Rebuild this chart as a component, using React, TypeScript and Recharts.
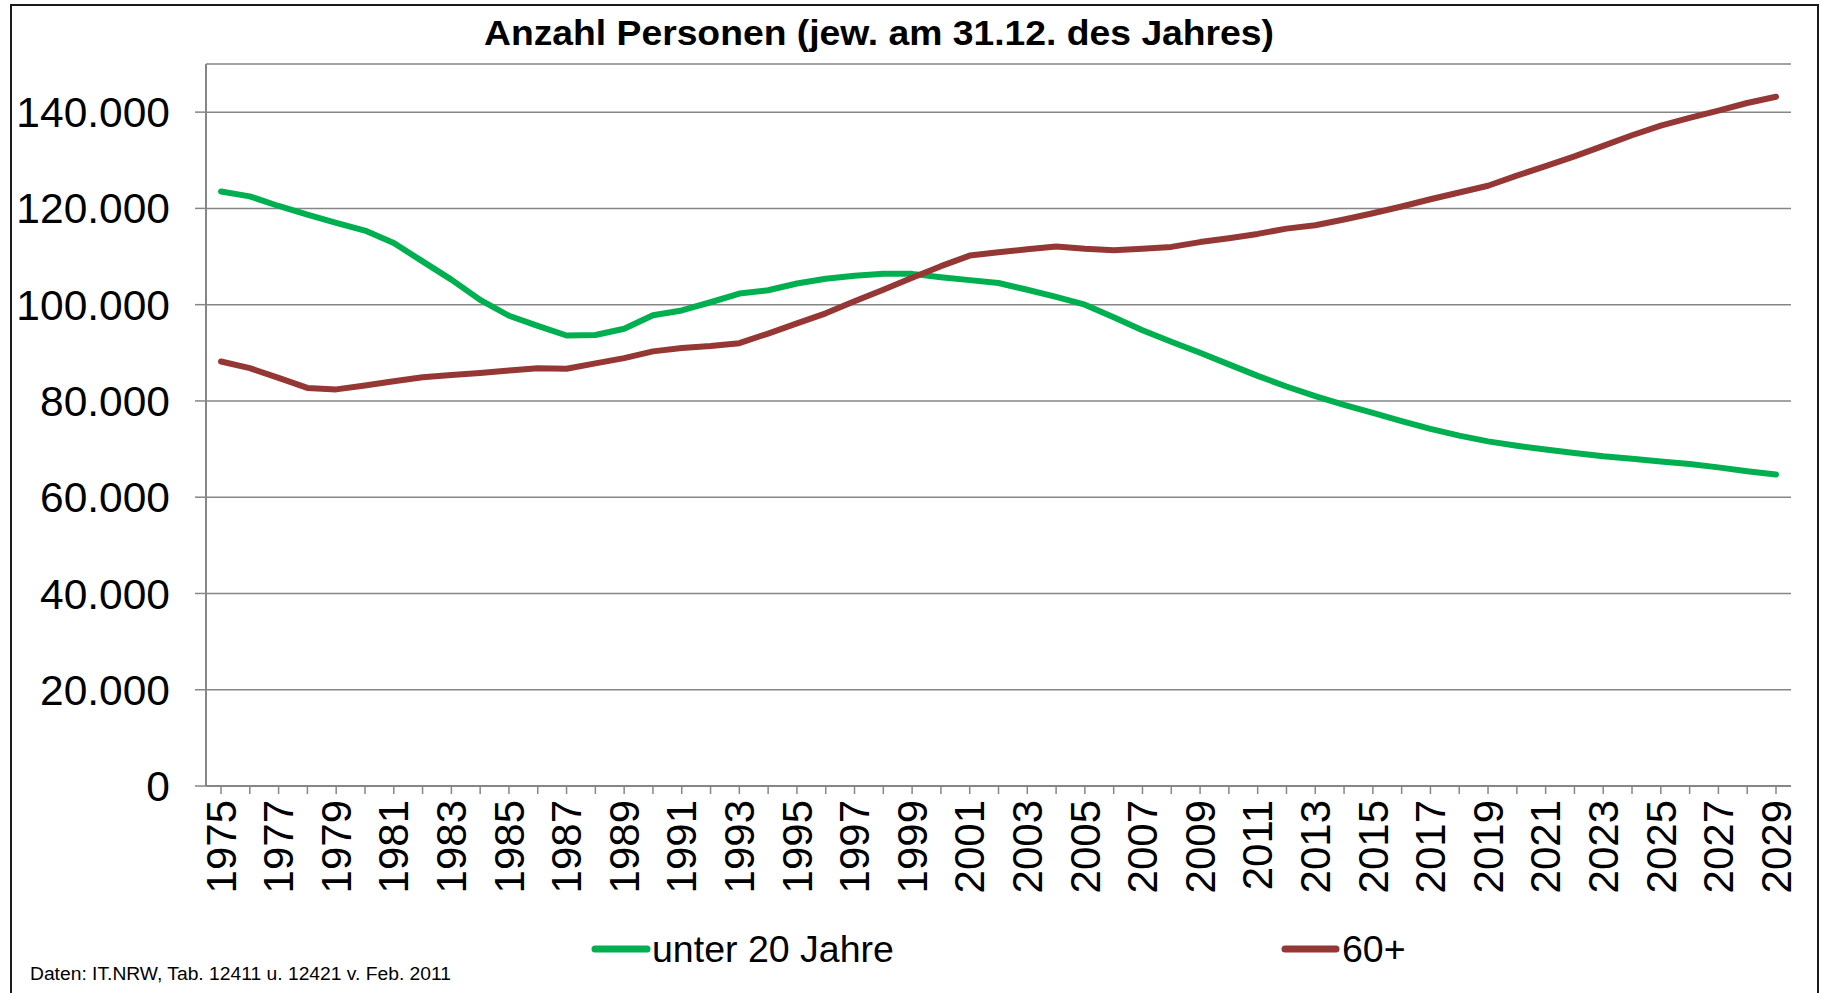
import { LineChart, Line, XAxis, YAxis, CartesianGrid } from 'recharts';

const years = [
  1975, 1976, 1977, 1978, 1979, 1980, 1981, 1982, 1983, 1984, 1985,
  1986, 1987, 1988, 1989, 1990, 1991, 1992, 1993, 1994, 1995, 1996,
  1997, 1998, 1999, 2000, 2001, 2002, 2003, 2004, 2005, 2006, 2007,
  2008, 2009, 2010, 2011, 2012, 2013, 2014, 2015, 2016, 2017, 2018,
  2019, 2020, 2021, 2022, 2023, 2024, 2025, 2026, 2027, 2028, 2029,
];

const unter20 = [
  123500, 122500, 120500, 118700, 117000, 115400, 112800, 109000, 105200, 101000, 97700,
  95600, 93600, 93700, 95000, 97800, 98800, 100500, 102300, 103000, 104400, 105400,
  106000, 106400, 106400, 105700, 105100, 104500, 103100, 101600, 100000, 97400, 94700,
  92300, 90000, 87600, 85200, 83000, 81000, 79200, 77500, 75800, 74200, 72800,
  71600, 70700, 69900, 69200, 68500, 68000, 67400, 66900, 66200, 65400, 64700,
];

const ab60 = [
  88200, 86800, 84800, 82700, 82400, 83200, 84100, 84900, 85400, 85800, 86300,
  86800, 86700, 87800, 88900, 90300, 91000, 91400, 92000, 94000, 96100, 98200,
  100700, 103100, 105600, 108000, 110200, 110900, 111500, 112100, 111600, 111300, 111600,
  112000, 113000, 113800, 114700, 115800, 116500, 117700, 119000, 120400, 121900, 123300,
  124700, 126800, 128800, 130800, 133000, 135200, 137200, 138800, 140300, 141900, 143200,
];

const yTicks = [0, 20000, 40000, 60000, 80000, 100000, 120000, 140000];

const data = years.map((year, i) => ({ year, u20: unter20[i], p60: ab60[i] }));

const FONT = '"Liberation Sans", Arial, sans-serif';
const GREEN = '#00B050';
const RED = '#953735';
const GRID = '#868686';

const formatDe = (v: number) => String(v).replace(/\B(?=(\d{3})+(?!\d))/g, '.');

// only every second year gets a label, but every year keeps its tick mark
const YearTick = (props: any) => {
  const { x, y, payload } = props;
  if ((payload.value - 1975) % 2 !== 0) return null;
  return (
    <text
      transform={`translate(${x},${y}) rotate(-90)`}
      textAnchor="end"
      dy="0.35em"
      fontSize={42}
      fontFamily={FONT}
      fill="#000"
    >
      {payload.value}
    </text>
  );
};

export default function App() {
  return (
    <div style={{ position: 'fixed', left: 0, top: 0, width: 1821, height: 993, overflow: 'hidden', background: '#fff' }}>
      <LineChart
        width={1821}
        height={993}
        data={data}
        margin={{ top: 64, right: 30, bottom: 0, left: 0 }}
        style={{ position: 'absolute', left: 0, top: 0 }}
      >
        <CartesianGrid horizontal vertical={false} stroke={GRID} strokeWidth={1.5} />
        <XAxis
          dataKey="year"
          height={207}
          interval={0}
          padding={{ left: 15, right: 15 }}
          tickSize={8}
          tickMargin={6}
          axisLine={{ stroke: GRID, strokeWidth: 2 }}
          tickLine={{ stroke: GRID, strokeWidth: 1.5 }}
          tick={YearTick}
        />
        <YAxis
          width={206}
          domain={[0, 150000]}
          ticks={yTicks}
          interval={0}
          tickSize={11}
          tickMargin={25}
          tickFormatter={formatDe}
          axisLine={{ stroke: GRID, strokeWidth: 2 }}
          tickLine={{ stroke: GRID, strokeWidth: 1.5 }}
          tick={{ fontSize: 42.5, fill: '#000', fontFamily: FONT }}
        />
        <Line
          type="linear"
          dataKey="u20"
          stroke={GREEN}
          strokeWidth={6}
          strokeLinecap="round"
          strokeLinejoin="round"
          dot={false}
          activeDot={false}
          isAnimationActive={false}
        />
        <Line
          type="linear"
          dataKey="p60"
          stroke={RED}
          strokeWidth={6}
          strokeLinecap="round"
          strokeLinejoin="round"
          dot={false}
          activeDot={false}
          isAnimationActive={false}
        />
      </LineChart>

      <svg width={1821} height={993} style={{ position: 'absolute', left: 0, top: 0, pointerEvents: 'none' }}>
        <rect x={11} y={5} width={1807} height={1010} fill="none" stroke="#1a1a1a" strokeWidth={2} />
        <text x={484} y={45} fontSize={35} fontWeight="bold" fontFamily={FONT} fill="#000" textLength={790} lengthAdjust="spacingAndGlyphs">
          Anzahl Personen (jew. am 31.12. des Jahres)
        </text>

        <line x1={595} y1={949} x2={647} y2={949} stroke={GREEN} strokeWidth={7} strokeLinecap="round" />
        <text x={652} y={962} fontSize={37.5} fontFamily={FONT} fill="#000">unter 20 Jahre</text>
        <line x1={1285} y1={949} x2={1336} y2={949} stroke={RED} strokeWidth={7} strokeLinecap="round" />
        <text x={1342} y={962} fontSize={37.5} fontFamily={FONT} fill="#000">60+</text>

        <text x={30} y={980} fontSize={17.5} fontFamily={FONT} fill="#000" textLength={421} lengthAdjust="spacingAndGlyphs">
          Daten: IT.NRW, Tab. 12411 u. 12421 v. Feb. 2011
        </text>
      </svg>
    </div>
  );
}
